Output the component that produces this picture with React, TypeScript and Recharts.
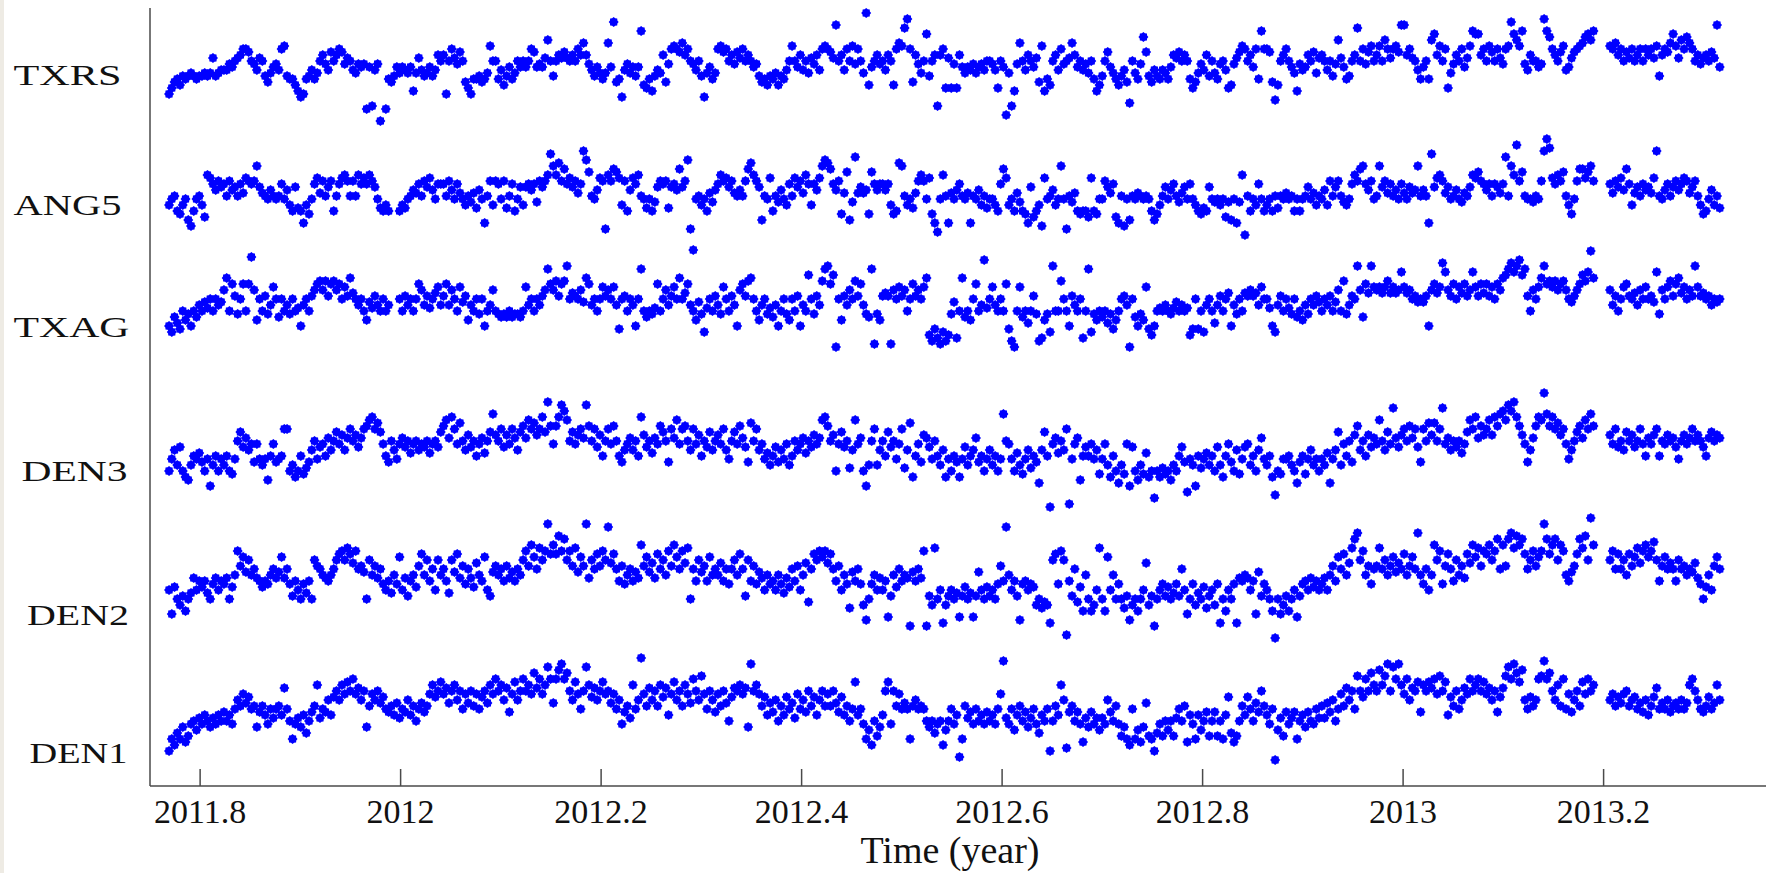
import React from 'react';
import { ScatterChart, Scatter, XAxis, YAxis, Label } from 'recharts';

const CHART_W = 1766;
const CHART_H = 873;
const FONT = '"Liberation Serif", "DejaVu Serif", serif';

// time axis: one observation per day starting at this epoch
const START_YEAR = 2011.769;
const DAYS_PER_YEAR = 365.25;
const X_DOMAIN = [2011.75, 2013.362];
const xTicks = [2011.8, 2012, 2012.2, 2012.4, 2012.6, 2012.8, 2013, 2013.2];
const xTickLabels = ['2011.8', '2012', '2012.2', '2012.4', '2012.6', '2012.8', '2013', '2013.2'];

// stations, their plotting offsets (mm) and the level of their name label (mm)
const stationNames = ['TXRS', 'ANG5', 'TXAG', 'DEN3', 'DEN2', 'DEN1'];
const stationOffsets = [258.67, 218.67, 180.33, 132, 90.33, 43.67];
const stationLabelLevels = [237, 193.7, 153.3, 105, 57, 11.3];
const stationLabelX = [13.5, 13.5, 13.5, 21.5, 27, 29.5];
const stationLabelWidth = [108, 108, 116, 106, 102, 98];
const Y_DOMAIN = [0, 259.333];

// daily displacement codes (1 char = 1 day, '.' = no solution; code value = mm below station offset)
const CODE_ALPHABET = '0123456789abcdefghijklmnopqrstuvwxyzABCDEFGHIJKLMNOPQRSTUVWXYZ';

const txrsCodes = [
  'sqonpmnmlmnmmlmlgmlk', 'kkijhgfddehikghmolji', 'kdcmnnprtsnmknlhfike', 'hfdeighklijixjwkiB.x',
  'nomjljkljrlgkmljmkfh', 'fshdgiehoqsnnmonlchh', 'nkpmjnlhjhjhdejijgah', 'mhfgeghfhdfbfikmjlnl',
  'bj4ontkiljmj7pqnrmkl', 'foidcdebfdhikhmtljnl', 'dcedhfiegdhfhjimonpm', 'nlpmnkhchjfkhlgifkdc',
  'deg5hfkdhcidhl1pjhfi', 'hkfhpdbc63dofilh8mhf', 'wfdqgqiqfjljkiljikhh', 'ikqhjzlwribhkfhjgocr',
  'nphfkdihgbfjhkilhnrp', 'mhejlnpmkovhlni9emok', 'mnklnjfgehfhnqolikfm', 'hlnihkqpigecdhfjdn7d',
  'deouphfdhjlrikjfhelg', 'fhkhmiagjnmhf6hdiech', 'fchadgdce55fdghknjhn', 'a8fchdqlifhdjgc788fd',
  'hcehdgidc48ac7ikfhhj', 'i379dfheckjgedcb98a7', '.....cdbfdhegdhfdhdf', 'dgcmfdeb8cgad9bdhfig',
  'fheg5j',
];

const ang5Codes = [
  'pnmrspnuwrnmptfgikhj', 'imhkjmilghihcjlmnkmn', 'minkprjqrvpsniglhmjh', 'rmigfhmhmfigifhjnqrp',
  'r...rpqnmklimhjgknii', 'imhknilnpmolqknvmhph', 'inhqmirnjpjikiohjhf8', 'cfbhdigjhli7aemnkghx',
  'fhdegphrkgifmnqnrojh', 'ihqjikdjhaxEnmpnrlok', 'ifhgjhlmkmhdbfhjumng', 'rmoknpimgjhlfipikgca',
  'bdikhsleuo9ljlkseiki', 'ikipsrbcmpnqlhfhngsv', 'ynfmvlnkimnlvmnkpmqn', 'npridgpnrlorsvjtrpwg',
  'nmkpncnxmolrsrrtgrsn', 'nhjlitvmwnumnlmnmnru', 'spmjnkimoljninprsqrj', 'nonpntounvofzmrnpinr',
  'pnrmqmnlnmrnrnmjnlpm', 'nkphmjhmopnifhdcikhn', 'mcjhlimknilnjlkcmkmv', '8jgfhljnmknolmjfgehi',
  'kimijli9mcf5hemnnomn', 'h736gifhempsnhddgech', '.....ilhjgkdipljmikj', 'lg7mnkimjhkighljhmps',
  'rnkpmq',
];

const txagCodes = [
  'rtoqsmpnrmokmjlimikj', 'fbmdhnidmd4fpimhnkei', 'oimknimlrkimhfdcfchd', 'cfdiehbgikimpjlhkmim',
  'k...imhkimidfkhligek', 'hdkfimejhpkminirmkfm', 'nonomonnomekimikhf8d', 'fchdc7ighifjbdkimieh',
  'fieksihmikri8momnldm', 'ifkheibigdkmpjntlimh', 'kneimhkrfdhcbimpkinl', 'okrminpimhrkmainhkc8',
  '7dayiphkfichdkno8xnp', 'hghxfiehfmidhfiebuws', 'vxtwunjvmbompidmk5li', 'ekmimdswymeomqmhnwvp',
  'nt7mmcimrhkmivm8tnpm', 'omqnspmihkyiornpesur', 'mlmkmnljmkmlusismtki', 'mqkhmigrknimghfhgkei',
  'ilrtkhmilniompknikhj', 'mikhmjfmcnkhi7fodg7e', 'fegecgegf9egfihjijhr', 'fdge69fhdiegdhf9ehdg',
  'dheidfba86975a8hmfie', 'b7dcecfdcfijhfdac92b', '.....fkhmiedhigkfiei', 'hj9nfiechdbgeifh7ehg',
  'ihkiji',
];

const den3Codes = [
  'rnkpjrtupmnlornwpmrn', 'pmrsnhejgkioinpnumio', 'nmddrptrmsqokhnjimgk', 'heifkgdhfjgdca9dbeim',
  'ohknigjhlihkijhlihje', 'cag9dibhkfjhmiglhe8f', 'hdjfidgkecgadbfd9e4c', 'ic957aheifdg5chdjfmh',
  'dichmokigkhm9fjhlgic', 'ehodgaidchkdifmhjekh', 'fidknheicgjobhdkinlp', 'mjoknipmhkiglhjfiga9',
  'chfriejhqkaigrwphdpk', 'hmejhnidqkbtmiofgjnh', 'mpktnrmotnjpmkgomrnk', 'pmrn8hinrlpsnkqmovke',
  'mDiglhkdCnigumjminks', 'niptmrvpsiwjrupsltrA', 'rtqsruprmjoynpwmqnlp', 'mrjptmiorksnjipmrkgn',
  'pmtzrsnnmprvomsnkpnr', 'nplvnkepimhofckhmfjg', 'iahkei6gjfdhcgdjodhb', 'fbhd6igkhjhliead9gcf',
  'daf9c87a5749cfiokgc9', 'a18c9dbfdinkhecgad8c', '.....fidjhkehfjhdimg', 'ifdmhifhgjnhfigdhfhj',
  'mgehfg',
];

const den2Codes = [
  'pxosurwsqlpmomqsnlpm', 'nlsokchejfkilmomnkil', 'jelinrmpsnqmsfhiklmk', 'ifdcfbdgcihjsfkhlinp',
  'mqkneplrmkohdkfmipfk', 'imqfjdlhnilogkmeprjh', 'kimhljmikfchaeibfc3d', 'ad7c8fchbjeh3lfidhcf',
  '4gdimhnkimjlahejgldi', 'fkchaeicgbsimfjhmeki', 'kgminifkdirfmhnjlpkn', 'mpknqloimhpkgtidfcec',
  'gdimhpknvjminuzsnkpl', 'pmyrkoimklBjmilcBrub', 'spAurpsqyrosqyrjpsor', 'psnhm4kpmrznmpnousvt',
  'uAfdncfEmritowkswupb', 'swepksnsvrzuswspgurB', 'spnrosqnripxsnuqsovr', 'punAswpsnAlmklpmxjrn',
  'pswFsxurwspyrnmplomp', 'nlpkhmeidkgb86fckhni', 'hbifkhejgidkhei6knip', 'kafcnhdimfkhldgaebhc',
  'dafc8iah86b7a8difche', 'c38da8fackmjhd8b7f1a', '.....fcidifkdhebgcae', 'c9fmheigimfihkijglns',
  'okphei',
];

const den1Codes = [
  'wsuqsotrnmplnkmolnkm', 'jmknifhdgeihojhknili', 'hkbimsnlokqmjhalijfk', 'ecfad9c8dbfcohdfcgei',
  'jhkglijfkhmigjhdaec9', 'dbgcafcidgchdiecgad8', 'cafbjd9fc8cad6b8da48', 'g85386cf9dic4aebfc9d',
  'cgdifnjhlaif1dhbfcha', 'ebkd9fchadg8cf7dicfj', 'dhcgmebcadbo3cadhekg', 'jfmhkeigldifjchekfch',
  'dhcgjekhmi9kinspumro', 'kc9nchdigishfihimomq', 'nmupminkyshljnimknjm', 'knid2lnipkhmjolinqkm',
  'iwmhkafvjhmjntlojnlp', 'lnfjmhnrosuisptogrsw', 'qnrmpmrlimhtknskpmjr', 'mjrmskeqtrmhkeimgjch',
  'knizplrjnljsmkojmnil', 'hlgjfmidhbfci7ce8c6a', 'c5a73c483ad8fbc9jac9', 'b8d7c9kehcifbd8ca8c9',
  'dbfcjeb7483695fiehf8', '7286cfah8idjfch9d8ca', '.....fdhegdchfeigjfk', 'hebigifjhgifiga8cfij',
  'heigaf',
];

const stationCodes = [txrsCodes, ang5Codes, txagCodes, den3Codes, den2Codes, den1Codes];

function decodeSeries(codes: string[], offset: number) {
  const s = codes.join('');
  const out: { x: number; y: number }[] = [];
  for (let i = 0; i < s.length; i++) {
    const ch = s[i];
    if (ch === '.') continue;
    const k = CODE_ALPHABET.indexOf(ch);
    out.push({ x: START_YEAR + i / DAYS_PER_YEAR, y: offset - k });
  }
  return out;
}

const seriesData = stationCodes.map((c, i) => decodeSeries(c, stationOffsets[i]));

const MARKER_COLOR = '#0000ff';

const StarMarker = (props: any) => {
  const { cx, cy } = props;
  if (cx == null || cy == null || isNaN(cx) || isNaN(cy)) return null;
  const pts: string[] = [];
  for (let j = 0; j < 16; j++) {
    const r = j % 2 === 0 ? 5.0 : 4.0;
    const a = (Math.PI * j) / 8;
    pts.push(`${(cx + r * Math.cos(a)).toFixed(2)},${(cy + r * Math.sin(a)).toFixed(2)}`);
  }
  return <polygon points={pts.join(' ')} fill={MARKER_COLOR} />;
};

const YearTick = (props: any) => {
  const { x, y, index } = props;
  return (
    <g>
      <line x1={x} y1={y} x2={x} y2={y - 17} stroke="#4a4a4a" strokeWidth={1.5} />
      <text x={x} y={y + 37} textAnchor="middle" fontFamily={FONT} fontSize={34} fill="#111">
        {xTickLabels[index]}
      </text>
    </g>
  );
};

const StationTick = (props: any) => {
  const { y, index } = props;
  return (
    <text
      x={stationLabelX[index]}
      y={y}
      dy="0.35em"
      textAnchor="start"
      fontFamily={FONT}
      fontSize={30}
      fill="#111"
      textLength={stationLabelWidth[index]}
      lengthAdjust="spacingAndGlyphs"
    >
      {stationNames[index]}
    </text>
  );
};

export default function App() {
  return (
    <div style={{ position: 'absolute', left: 0, top: 0, width: CHART_W, height: CHART_H, background: '#ffffff', overflow: 'hidden' }}>
      <div style={{ position: 'absolute', left: 0, top: 0, width: 4, height: CHART_H, background: '#eeebe4' }} />
      <ScatterChart width={CHART_W} height={CHART_H} margin={{ top: 8, right: 0, bottom: 0, left: 0 }}>
        <XAxis
          type="number"
          dataKey="x"
          domain={X_DOMAIN}
          ticks={xTicks}
          interval={0}
          allowDataOverflow
          height={87}
          tickSize={0}
          tickMargin={0}
          tickLine={false}
          axisLine={{ stroke: '#4a4a4a', strokeWidth: 1.5 }}
          tick={<YearTick />}
        >
          <Label value="Time (year)" position="insideBottom" offset={10} dx={-8} style={{ fontFamily: FONT, fontSize: 38, fill: '#111' }} />
        </XAxis>
        <YAxis
          type="number"
          dataKey="y"
          domain={Y_DOMAIN}
          ticks={stationLabelLevels}
          interval={0}
          allowDataOverflow
          width={150}
          tickLine={false}
          axisLine={{ stroke: '#4a4a4a', strokeWidth: 1.5 }}
          tick={<StationTick />}
        />
        {seriesData.map((d, i) => (
          <Scatter key={stationNames[i]} name={stationNames[i]} data={d} fill={MARKER_COLOR} shape={StarMarker} isAnimationActive={false} />
        ))}
      </ScatterChart>
    </div>
  );
}
